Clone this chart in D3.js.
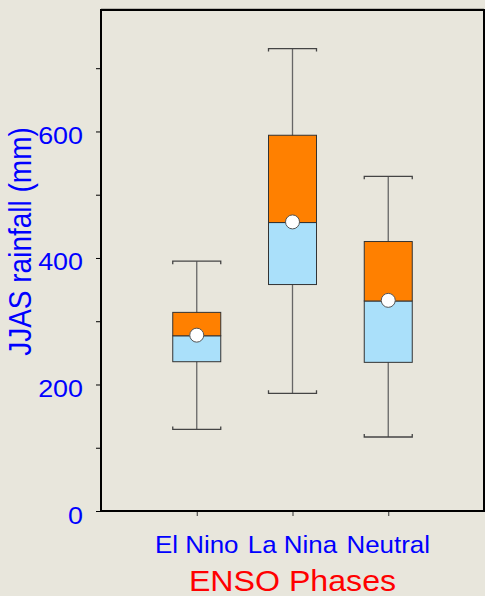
<!DOCTYPE html>
<html>
<head>
<meta charset="utf-8">
<script src="https://cdn.jsdelivr.net/npm/d3@7"></script>
<style>
  body { margin: 0; background: #e8e6dc; }
  svg { display: block; }
  text { font-family: "Liberation Sans", Arial, sans-serif; }
</style>
</head>
<body>
<svg width="485" height="596"></svg>
<script>
// box plot data (mm)
var phases = ["El Nino", "La Nina", "Neutral"];
var whiskLow = [129, 186, 117];
var q1 = [236, 358, 235];
var median = [277, 456, 332];
var q3 = [314, 594, 426];
var whiskHigh = [395, 731, 529];
var meanVal = [278, 457, 333];
var majorTicks = [0, 200, 400, 600];
var minorTicks = [100, 300, 500, 700];

var svg = d3.select("svg"),
    plotL = 101, plotR = 484, plotT = 10, plotB = 511,
    boxW = 48;

var x = d3.scalePoint().domain(phases).range([plotL, plotR]).padding(1);
var y = d3.scaleLinear().domain([0, 792]).range([plotB, plotT]);

var rows = phases.map(function(p, i) {
  return { name: p, lo: whiskLow[i], q1: q1[i], med: median[i], q3: q3[i], hi: whiskHigh[i], mean: meanVal[i] };
});

// thin grey line above the frame
svg.append("line").attr("x1", plotL).attr("x2", plotR).attr("y1", 8.5).attr("y2", 8.5)
  .attr("stroke", "#b8b6ae").attr("stroke-width", 1);

// y axis ticks
var yAxis = svg.append("g").attr("transform", "translate(" + plotL + ",0)")
  .call(d3.axisLeft(y).tickValues(majorTicks.concat(minorTicks)).tickSize(5).tickFormat(""));
yAxis.select(".domain").remove();
yAxis.selectAll("line").attr("stroke", "#000");

majorTicks.forEach(function(t) {
  svg.append("text")
    .attr("transform", "translate(83," + (y(t) + 12.5) + ") scale(1.12,1)")
    .attr("text-anchor", "end")
    .attr("fill", "#0000ff")
    .attr("font-size", 24)
    .text(t);
});

// x axis ticks
var xAxis = svg.append("g").attr("transform", "translate(0," + plotB + ")")
  .call(d3.axisBottom(x).tickSize(5).tickFormat(""));
xAxis.select(".domain").remove();
xAxis.selectAll("line").attr("stroke", "#333");

phases.forEach(function(p) {
  svg.append("text")
    .attr("transform", "translate(" + x(p) + ",553) scale(1.08,1)")
    .attr("text-anchor", "middle")
    .attr("fill", "#0000ff")
    .attr("font-size", 24)
    .text(p);
});

// boxes
var g = svg.selectAll(".box").data(rows).enter().append("g").attr("class", "box");

g.append("line")
  .attr("x1", function(d) { return x(d.name); }).attr("x2", function(d) { return x(d.name); })
  .attr("y1", function(d) { return y(d.hi); }).attr("y2", function(d) { return y(d.lo); })
  .attr("stroke", "#666").attr("stroke-width", 1.3);

// whisker caps with small end hooks
g.append("path")
  .attr("d", function(d) {
    var a = x(d.name) - boxW / 2, b = x(d.name) + boxW / 2, yh = y(d.hi), yl = y(d.lo);
    return "M" + a + "," + (yh + 3) + "V" + yh + "H" + b + "V" + (yh + 3) +
           "M" + a + "," + (yl - 3) + "V" + yl + "H" + b + "V" + (yl - 3);
  })
  .attr("fill", "none").attr("stroke", "#444").attr("stroke-width", 1.3);

g.append("rect")
  .attr("x", function(d) { return x(d.name) - boxW / 2; })
  .attr("width", boxW)
  .attr("y", function(d) { return y(d.med); })
  .attr("height", function(d) { return y(d.q1) - y(d.med); })
  .attr("fill", "#aae0fa").attr("stroke", "#333").attr("stroke-width", 1);

g.append("rect")
  .attr("x", function(d) { return x(d.name) - boxW / 2; })
  .attr("width", boxW)
  .attr("y", function(d) { return y(d.q3); })
  .attr("height", function(d) { return y(d.med) - y(d.q3); })
  .attr("fill", "#ff8000").attr("stroke", "#333").attr("stroke-width", 1);

g.append("circle")
  .attr("cx", function(d) { return x(d.name); })
  .attr("cy", function(d) { return y(d.mean); })
  .attr("r", 7)
  .attr("fill", "#fff").attr("stroke", "#555").attr("stroke-width", 1);

// frame
svg.append("rect").attr("x", plotL).attr("y", plotT)
  .attr("width", plotR - plotL).attr("height", plotB - plotT)
  .attr("fill", "none").attr("stroke", "#000").attr("stroke-width", 2);

// axis titles
svg.append("text")
  .attr("transform", "translate(30.5,241.5) scale(1.12,1) rotate(-90)")
  .attr("text-anchor", "middle")
  .attr("fill", "#0000ff")
  .attr("font-size", 28)
  .text("JJAS rainfall (mm)");

svg.append("text")
  .attr("transform", "translate(" + ((plotL + plotR) / 2) + ",591) scale(1.09,1)")
  .attr("text-anchor", "middle")
  .attr("fill", "#ff0000")
  .attr("font-size", 29.5)
  .text("ENSO Phases");
</script>
</body>
</html>
